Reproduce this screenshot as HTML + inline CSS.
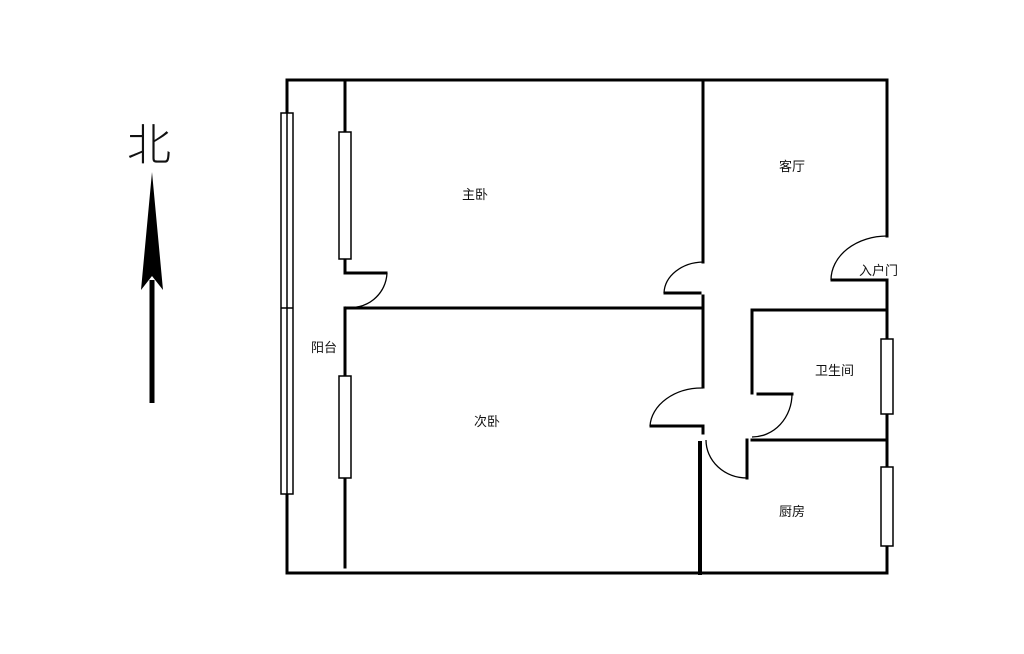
<!DOCTYPE html>
<html><head><meta charset="utf-8"><style>
html,body{margin:0;padding:0;background:#fff;}
svg{display:block}
text{font-family:"Liberation Sans","Noto Sans CJK SC",sans-serif;fill:#111;}
</style></head><body>
<svg width="1024" height="654" viewBox="0 0 1024 654" xmlns="http://www.w3.org/2000/svg">
<g stroke="#000" stroke-width="3" fill="none" stroke-linecap="square">
<!-- outer -->
<polyline points="887,236 887,80 287,80 287,573 887,573 887,280"/>
<!-- balcony inner wall -->
<line x1="345" y1="80" x2="345" y2="273"/>
<line x1="345" y1="273" x2="386" y2="273"/>
<line x1="345" y1="308" x2="345" y2="567"/>
<line x1="345" y1="308" x2="703" y2="308"/>
<!-- middle vertical -->
<line x1="703" y1="80" x2="703" y2="262"/>
<line x1="665" y1="293" x2="700" y2="293"/>
<line x1="703" y1="296" x2="703" y2="387"/>
<line x1="651" y1="426" x2="703" y2="426"/>
<line x1="703" y1="426" x2="703" y2="433"/>
<line x1="700" y1="443" x2="700" y2="573" stroke-width="4"/>
<!-- entry -->
<line x1="832" y1="280" x2="887" y2="280"/>
<!-- bathroom -->
<polyline points="887,310 752,310 752,393"/>
<line x1="758" y1="394" x2="792" y2="394"/>
<line x1="752" y1="440" x2="887" y2="440"/>
<line x1="747" y1="440" x2="747" y2="478"/>
</g>
<!-- door arcs -->
<g stroke="#000" stroke-width="1.3" fill="none">
<path d="M387,273 A36,36 0 0 1 345,307"/>
<path d="M664,293 A40,32 0 0 1 703,262"/>
<path d="M650,426 A52,40 0 0 1 703,388"/>
<path d="M831,280 A56,44 0 0 1 887,236"/>
<path d="M792,394 A40,43 0 0 1 752,437"/>
<path d="M706,440 A41,38 0 0 0 747,478"/>
</g>
<!-- windows -->
<g stroke="#000" stroke-width="1.5" fill="#fff">
<rect x="281" y="113" width="12" height="381"/>
<line x1="287" y1="113" x2="287" y2="494"/>
<line x1="281" y1="308" x2="293" y2="308"/>
<rect x="339" y="132" width="12" height="127"/>
<rect x="339" y="376" width="12" height="102"/>
<rect x="881" y="339" width="12" height="75"/>
<rect x="881" y="467" width="12" height="79"/>
</g>
<g font-size="13">
<text x="462" y="199">主卧</text>
<text x="779" y="171">客厅</text>
<text x="859" y="275">入户门</text>
<text x="311" y="352">阳台</text>
<text x="474" y="426">次卧</text>
<text x="815" y="375">卫生间</text>
<text x="779" y="516">厨房</text>
</g>
<text x="127" y="160" font-size="44" style="font-weight:300">北</text>
<line x1="152" y1="280" x2="152" y2="403" stroke="#000" stroke-width="5"/>
<polygon points="152,172 163,290 152,276 141,290" fill="#000"/>
</svg>
</body></html>
